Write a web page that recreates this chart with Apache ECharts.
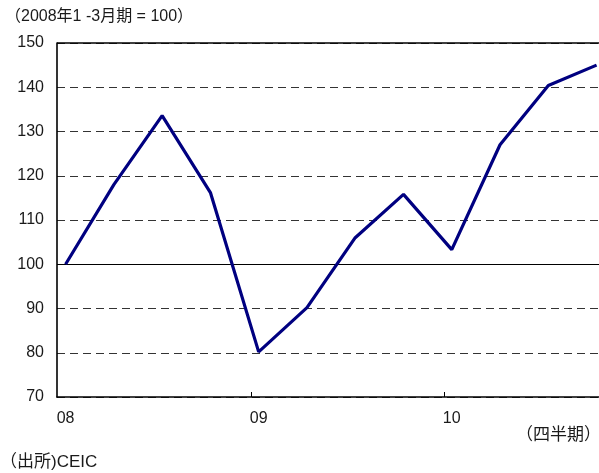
<!DOCTYPE html>
<html><head><meta charset="utf-8">
<script src="https://cdn.jsdelivr.net/npm/echarts@6/dist/echarts.min.js"></script>
<style>html,body{margin:0;padding:0;background:#fff}#c{width:599px;height:473px}</style>
</head><body><div id="c"></div>
<script>
var quarters = ['08Q1','08Q2','08Q3','08Q4','09Q1','09Q2','09Q3','09Q4','10Q1','10Q2','10Q3','10Q4'];
var values = [100, 118, 133.6, 116.2, 80.2, 90.2, 106, 115.8, 103.3, 127, 140.4, 145];
var yearLabels = ['08','09','10'];
var yearLabelIdx = [0,4,8];
var yearTickPos = [3.84, 7.84];
var yTicks = [70,80,90,100,110,120,130,140,150];

var FONT = '"Liberation Sans", Arial, "Noto Sans CJK JP", sans-serif';
var chart = echarts.init(document.getElementById('c'), null, {renderer:'canvas'});
chart.setOption({
  animation:false,
  grid:{left:57, top:43, right:0, bottom:76},
  xAxis:{
    type:'value', min:-0.178, max:11.05,
    axisLine:{show:true, onZero:false, lineStyle:{color:'#000', width:1.6}},
    splitLine:{show:false},
    axisTick:{show:true, inside:true, length:5, customValues:yearTickPos, lineStyle:{color:'#000', width:1}},
    axisLabel:{customValues:yearLabelIdx, margin:14, color:'#1a1a1a', fontSize:16, fontFamily:FONT,
      formatter:function(v){ var k=yearLabelIdx.indexOf(Math.round(v)); return k>=0?yearLabels[k]:''; }}
  },
  yAxis:{
    type:'value', min:yTicks[0], max:yTicks[yTicks.length-1], interval:10,
    axisLine:{show:true, onZero:false, lineStyle:{color:'#000', width:1.6}},
    axisTick:{show:false},
    axisLabel:{margin:13, color:'#1a1a1a', fontSize:16, fontFamily:FONT},
    splitLine:{show:true, lineStyle:{color:'#333', width:1, type:[8,5]}}
  },
  graphic:[
    {type:'text', left:5, top:9, style:{text:'（2008年1 -3月期 = 100）', fontSize:16, fontFamily:FONT, fill:'#1a1a1a'}},
    {type:'text', left:516, top:427, style:{text:'（四半期）', fontSize:17, fontFamily:FONT, fill:'#1a1a1a'}},
    {type:'text', left:0, top:454, style:{text:'（出所)CEIC', fontSize:17, fontFamily:FONT, fill:'#1a1a1a'}}
  ],
  series:[
    {type:'line', data: values.map(function(v,i){return [i,v];}), symbol:'none',
     lineStyle:{color:'#000080', width:3.2}, z:5,
     markLine:{silent:true, symbol:['none','none'], label:{show:false}, animation:false,
       data:[{yAxis:100, lineStyle:{color:'#000', width:1.2, type:'solid'}},
             {yAxis:150, lineStyle:{color:'#000', width:1.6, type:'solid'}}]}}
  ]
});
</script></body></html>
